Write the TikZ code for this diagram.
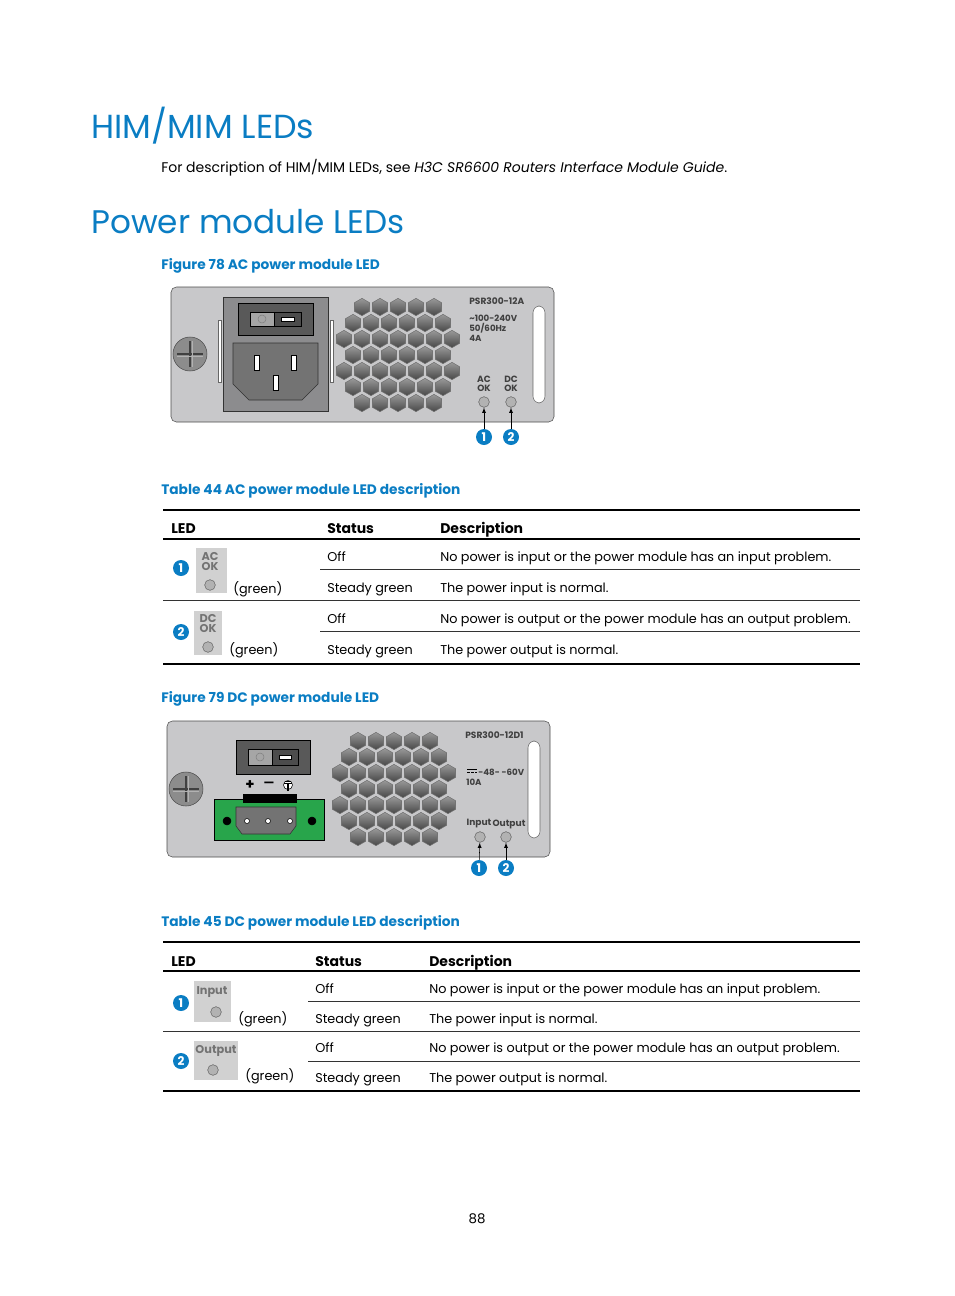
\documentclass[tikz,border=0pt]{standalone}
\usepackage{fontspec}
\setmainfont{Poppins}
\newfontfamily\symfont{DejaVu Sans}
\usetikzlibrary{positioning,shapes.geometric}
\definecolor{hblue}{RGB}{10,125,195}
\definecolor{panelgray}{RGB}{200,200,202}
\definecolor{boxgray}{RGB}{140,140,142}
\definecolor{termgreen}{RGB}{40,165,75}
\tikzset{
  txt/.style={anchor=base west,inner sep=0pt,font=\fontsize{9.6}{12}\selectfont},
  capt/.style={anchor=base west,inner sep=0pt,text=hblue,font=\fontsize{10.3}{13}\selectfont\bfseries},
  head/.style={anchor=base west,inner sep=0pt,font=\fontsize{10.5}{12}\selectfont\bfseries},
  lbl/.style={anchor=base west,inner sep=0pt,text=black!75,font=\fontsize{6.8}{7}\selectfont\bfseries,align=left},
  led/.style={circle,draw=black!60,fill=black!30,minimum size=8pt,inner sep=0pt},
  icon/.style={anchor=center,inner sep=0pt,align=center,text=black!55,font=\fontsize{8.5}{7.5}\selectfont\bfseries},
  callout/.style={circle,fill=hblue,text=white,minimum size=12pt,inner sep=0pt,font=\fontsize{9}{9}\selectfont\bfseries},
  hex/.style={regular polygon,regular polygon sides=6,minimum size=13pt,inner sep=0pt,draw=black!55,top color=black!40,bottom color=black!72,rotate=30}
}
\newcommand\hexgrid[2]{%
  \foreach \r/\n in {-3/5,-2/6,-1/7,0/6,1/7,2/6,3/5}{
    \foreach \k in {1,...,\n}{
      \node[hex] at ({#1+(\k-(\n+1)/2)*18},{#2+\r*16}) {};
    }
  }}
\newcommand\screw[2]{%
  \draw[fill=black!45,draw=black!70] (#1,#2) circle (17);
  \draw[black!75,line width=1.4pt] (#1-13,#2) -- (#1+13,#2) (#1,#2-13) -- (#1,#2+13);
  \draw[black!30,line width=0.4pt] (#1-13,#2+2) -- (#1+13,#2+2) (#1+2,#2-13) -- (#1+2,#2+13);}
\newcommand\switch[4]{%
  \draw[fill=black!65,draw=black] (#1,#2) rectangle (#3,#4);
  \draw[fill=black!35] (#1+12,#2+9) rectangle (#1+36,#4-9);
  \draw[fill=black!70] (#1+36,#2+9) rectangle (#3-12,#4-9);
  \draw[black!50] (#1+24,{(#2+#4)/2}) circle (4);
  \draw[fill=white] (#1+43,{(#2+#4)/2-2}) rectangle (#3-19,{(#2+#4)/2+2});}
\begin{document}
\begin{tikzpicture}[x=0.75pt,y=-0.75pt]
\useasboundingbox (0,0) rectangle (954,1296);
% headings
\node[anchor=base west,inner sep=0pt,text=hblue,font=\fontsize{25}{30}\selectfont] (himtitle) at (91,138) {HIM/MIM LEDs};
\node[anchor=base west,inner sep=0pt,font=\fontsize{10.5}{12}\selectfont] (himtext) at (161,172) {For description of HIM/MIM LEDs, see \textit{H3C SR6600 Routers Interface Module Guide}.};
\node[anchor=base west,inner sep=0pt,text=hblue,font=\fontsize{24.5}{30}\selectfont] (pwrtitle) at (91,233) {Power module LEDs};
\node[capt] (fig78) at (161,269) {Figure 78 AC power module LED};

% AC power module
\draw[fill=panelgray,draw=black!70,rounded corners=4] (171,287) rectangle (554,422);
\screw{190}{354}
\draw[fill=white,draw=black!60] (218,320) rectangle (221,382) (330,320) rectangle (333,382);
\draw[fill=boxgray,draw=black!80] (223,297) rectangle (328,411);
\switch{238}{303}{313}{335}
\draw[fill=black!55,draw=black!80] (233,343) -- (318,343) -- (318,384) -- (302,400) -- (249,400) -- (233,384) -- cycle;
\draw[fill=white,draw=black] (254,355) rectangle (259,370) (291,355) rectangle (296,370) (273,375) rectangle (278,390);
\hexgrid{398}{355}
\node[lbl] (acmodel) at (469,304) {PSR300-12A};
\node[lbl,font=\fontsize{6.5}{7.5}\selectfont\bfseries] (acrating) at (469,341) {\textasciitilde100-240V\\50/60Hz\\4A};
\node[lbl,align=center,anchor=center] (acoklbl) at (484,384) {AC\\OK};
\node[lbl,align=center,anchor=center] (dcoklbl) at (511,384) {DC\\OK};
\draw[fill=white,draw=black!60,rounded corners=5] (533,306) rectangle (545,403);
\node[led] (acled1) at (484,402) {};
\node[led] (acled2) at (511,402) {};
\node[callout] (accall1) at (484,437) {1};
\node[callout] (accall2) at (511,437) {2};
\draw[-latex] (accall1) -- (acled1);
\draw[-latex] (accall2) -- (acled2);

% Table 44
\node[capt] (tab44) at (161,494) {Table 44 AC power module LED description};
\draw[line width=1.5pt] (163,510) -- (860,510);
\node[head] at (171,533) {LED};
\node[head] at (327,533) {Status};
\node[head] at (440,533) {Description};
\draw[line width=1.5pt] (163,539) -- (860,539);
\node[txt] at (327,561) {Off};
\node[txt] at (440,561) {No power is input or the power module has an input problem.};
\draw[black!80] (320,569) -- (860,569);
\node[txt] at (327,592) {Steady green};
\node[txt] at (440,592) {The power input is normal.};
\draw[black!80] (163,600) -- (860,600);
\node[txt] at (327,623) {Off};
\node[txt] at (440,623) {No power is output or the power module has an output problem.};
\draw[black!80] (320,631) -- (860,631);
\node[txt] at (327,654) {Steady green};
\node[txt] at (440,654) {The power output is normal.};
\draw[line width=1.5pt] (163,664) -- (860,664);
\node[callout] (t44call1) at (181,568) {1};
\draw[fill=black!18,draw=none] (196,548) rectangle (227,593);
\node[icon] (t44ac) at (210,562) {AC\\OK};
\node[led] (t44led1) at (210,585) {};
\node[txt] at (233,593) {(green)};
\node[callout] (t44call2) at (181,632) {2};
\draw[fill=black!18,draw=none] (194,611) rectangle (222,655);
\node[icon] (t44dc) at (208,624) {DC\\OK};
\node[led] (t44led2) at (208,647) {};
\node[txt] at (229,654) {(green)};

\node[capt] (fig79) at (161,702) {Figure 79 DC power module LED};

% DC power module
\draw[fill=panelgray,draw=black!70,rounded corners=4] (167,721) rectangle (550,857);
\screw{186}{789}
\switch{236}{740}{310}{774}
\node[anchor=center,inner sep=0pt,font=\fontsize{11}{11}\selectfont\bfseries] (plus) at (250,785) {+};
\node[anchor=center,inner sep=0pt,font=\fontsize{11}{11}\selectfont\bfseries] (minus) at (269,785) {\symfont −};
\coordinate (gnd) at (288,785);
\draw[fill=white,draw=black] (gnd) circle (4.5);
\draw[line width=0.8pt] ([yshift=-4.5]gnd) -- ([yshift=1]gnd) ([xshift=-3,yshift=1]gnd) -- ([xshift=3,yshift=1]gnd) ([xshift=-2,yshift=2.5]gnd) -- ([xshift=2,yshift=2.5]gnd);
\draw[fill=termgreen,draw=black] (214,799) rectangle (324,840);
\draw[fill=black] (243,794) rectangle (296,802);
\draw[fill=black!55,draw=black!80] (236,807) -- (296,807) -- (296,826) -- (290,834) -- (242,834) -- (236,826) -- cycle;
\foreach \hx in {247,268,290}{\draw[fill=white,draw=black] (\hx,821) circle (2.5);}
\draw[fill=black] (227,821) circle (4) (312,821) circle (4);
\hexgrid{394}{789}
\node[lbl] (dcmodel) at (465,738) {PSR300-12D1};
\draw[line width=0.7pt] (467,769) -- (477,769);
\draw[line width=0.7pt,dash pattern=on 2pt off 1pt] (467,772) -- (477,772);
\node[lbl,font=\fontsize{6.5}{7.5}\selectfont\bfseries] (dcrating) at (478,775) {-48- -60V};
\node[lbl,font=\fontsize{6.5}{7.5}\selectfont\bfseries] (dccurrent) at (466,785) {10A};
\node[lbl,anchor=center] (inlbl) at (479,824) {Input};
\node[lbl,anchor=center] (outlbl) at (509,824) {Output};
\draw[fill=white,draw=black!60,rounded corners=5] (528,741) rectangle (540,838);
\node[led] (dcled1) at (480,837) {};
\node[led] (dcled2) at (506,837) {};
\node[callout] (dccall1) at (479,868) {1};
\node[callout] (dccall2) at (506,868) {2};
\draw[-latex] (dccall1) -- (dcled1);
\draw[-latex] (dccall2) -- (dcled2);

% Table 45
\node[capt] (tab45) at (161,926) {Table 45 DC power module LED description};
\draw[line width=1.5pt] (163,942) -- (860,942);
\node[head] at (171,966) {LED};
\node[head] at (315,966) {Status};
\node[head] at (429,966) {Description};
\draw[line width=1.5pt] (163,971) -- (860,971);
\node[txt] at (315,993) {Off};
\node[txt] at (429,993) {No power is input or the power module has an input problem.};
\draw[black!80] (308,1001) -- (860,1001);
\node[txt] at (315,1023) {Steady green};
\node[txt] at (429,1023) {The power input is normal.};
\draw[black!80] (163,1031) -- (860,1031);
\node[txt] at (315,1052) {Off};
\node[txt] at (429,1052) {No power is output or the power module has an output problem.};
\draw[black!80] (308,1061) -- (860,1061);
\node[txt] at (315,1082) {Steady green};
\node[txt] at (429,1082) {The power output is normal.};
\draw[line width=1.5pt] (163,1091) -- (860,1091);
\node[callout] (t45call1) at (181,1003) {1};
\draw[fill=black!18,draw=none] (194,981) rectangle (231,1022);
\node[icon] (t45in) at (212,992) {Input};
\node[led] (t45led1) at (216,1012) {};
\node[txt] at (238,1023) {(green)};
\node[callout] (t45call2) at (181,1061) {2};
\draw[fill=black!18,draw=none] (194,1041) rectangle (238,1080);
\node[icon] (t45out) at (216,1051) {Output};
\node[led] (t45led2) at (213,1070) {};
\node[txt] at (245,1080) {(green)};

\node[anchor=base,inner sep=0pt,font=\fontsize{10}{12}\selectfont] (pagenum) at (477,1223) {88};
\end{tikzpicture}
\end{document}
